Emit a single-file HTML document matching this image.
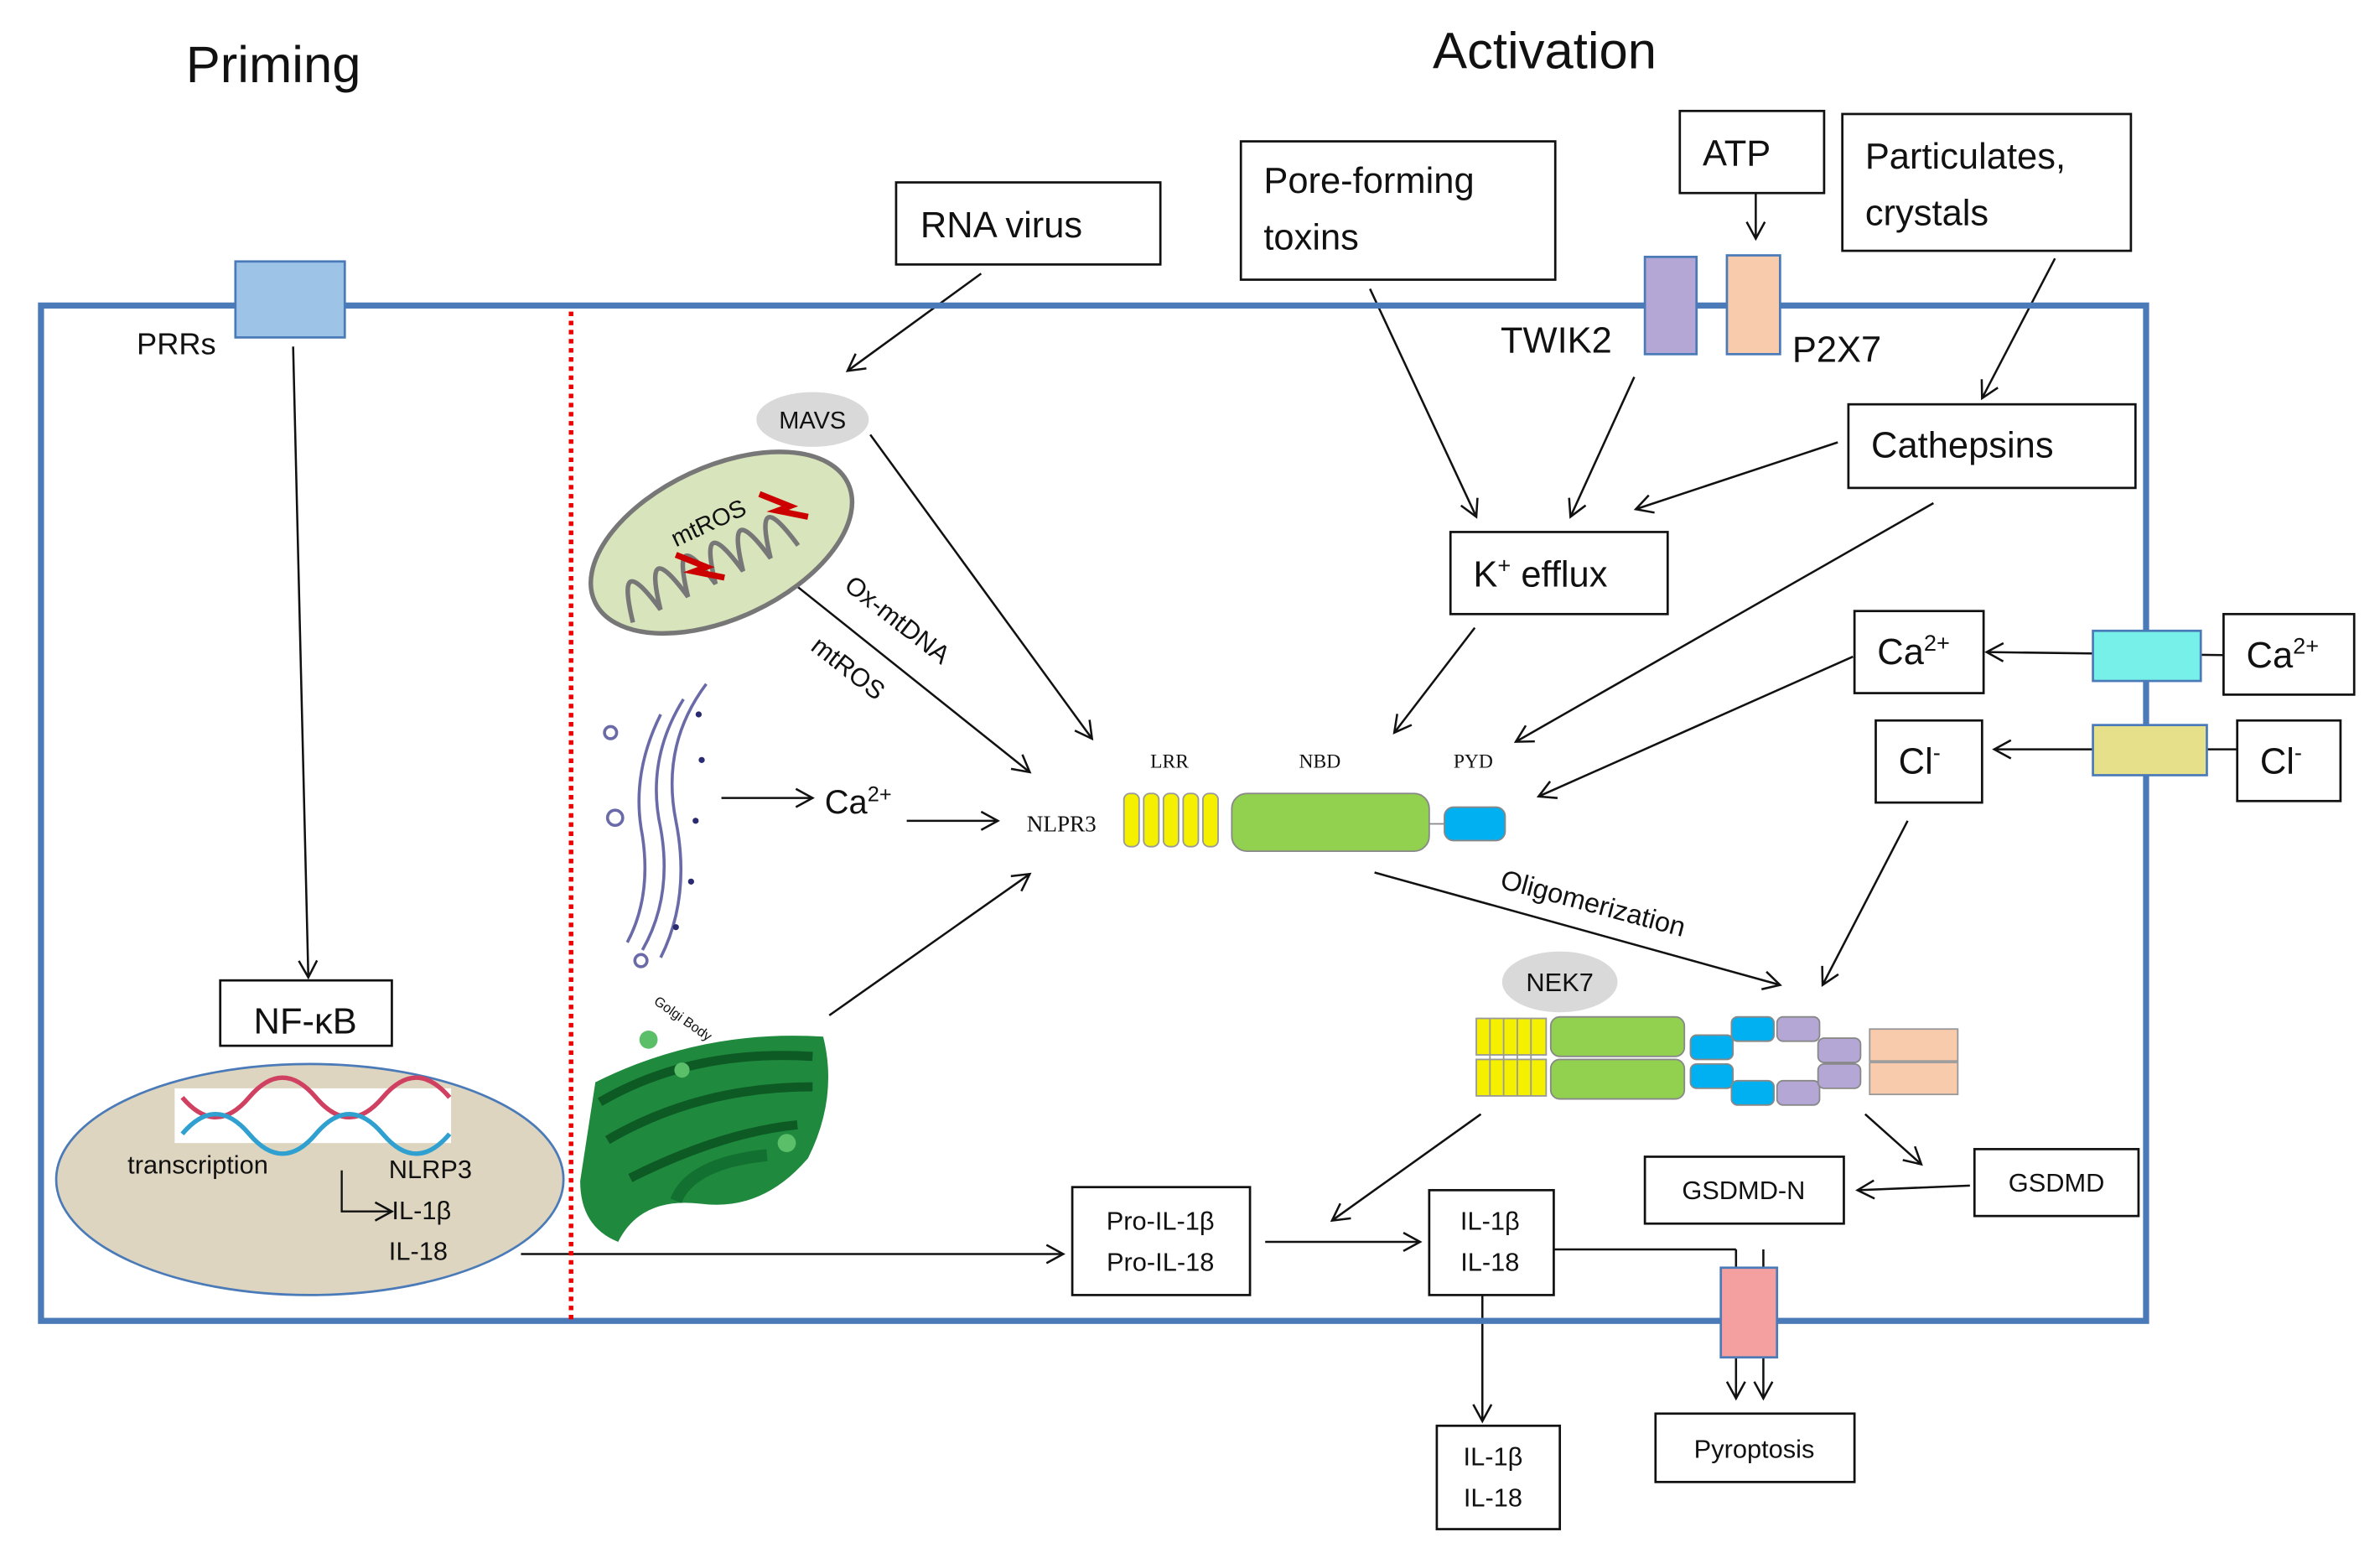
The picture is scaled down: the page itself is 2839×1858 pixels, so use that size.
<!DOCTYPE html>
<html><head><meta charset="utf-8"><style>
html,body{margin:0;padding:0;background:#fff;}
svg{display:block;}
text{font-family:"Liberation Sans","DejaVu Sans",sans-serif;fill:#111;}
.s{font-family:"Liberation Serif",serif;}
</style></head><body>
<svg width="2839" height="1858" viewBox="0 0 1567 1025" preserveAspectRatio="none" xmlns="http://www.w3.org/2000/svg">
<defs>
<marker id="a" markerWidth="14" markerHeight="14" refX="12" refY="7" orient="auto" markerUnits="userSpaceOnUse">
<path d="M1,1 L12,7 L1,13" fill="none" stroke="#111" stroke-width="1.4"/></marker>
</defs>
<g stroke="#111" stroke-width="1.4" fill="none" marker-end="url(#a)">
<line x1="193" y1="228" x2="203" y2="643"/>
<line x1="343" y1="825" x2="700" y2="825"/>
<line x1="646" y1="180" x2="558" y2="244"/>
<line x1="573" y1="286" x2="719" y2="486"/>
<line x1="515" y1="378" x2="678" y2="508"/>
<line x1="475" y1="525" x2="535" y2="525"/>
<line x1="597" y1="540" x2="657" y2="540"/>
<line x1="546" y1="668" x2="678" y2="575"/>
<line x1="902" y1="190" x2="972" y2="340"/>
<line x1="1156" y1="127" x2="1156" y2="157"/>
<line x1="1353" y1="170" x2="1305" y2="262"/>
<line x1="1210" y1="291" x2="1077" y2="335"/>
<line x1="1076" y1="248" x2="1034" y2="340"/>
<line x1="971" y1="413" x2="918" y2="482"/>
<line x1="1273" y1="331" x2="998" y2="488"/>
<line x1="1220" y1="432" x2="1013" y2="524"/>
<line x1="1464" y1="431" x2="1308" y2="429"/>
<line x1="1473" y1="493" x2="1313" y2="493"/>
<line x1="1256" y1="540" x2="1200" y2="648"/>
<line x1="905" y1="574" x2="1172" y2="648"/>
<line x1="975" y1="733" x2="877" y2="803"/>
<line x1="1228" y1="733" x2="1265" y2="766"/>
<line x1="1297" y1="780" x2="1223" y2="783"/>
<line x1="833" y1="817" x2="935" y2="817"/>
<line x1="976" y1="852" x2="976" y2="935"/>
<line x1="1143" y1="822" x2="1143" y2="920"/>
<line x1="1161" y1="822" x2="1161" y2="920"/>
</g>
<line x1="1023" y1="822" x2="1143" y2="822" stroke="#111" stroke-width="1.4"/>
<rect x="27" y="201" width="1386" height="668" fill="none" stroke="#4a7ab8" stroke-width="4"/>
<line x1="376" y1="205" x2="376" y2="869" stroke="#e00" stroke-width="3" stroke-dasharray="3,3"/>
<text x="180" y="54" font-size="34" text-anchor="middle">Priming</text>
<text x="1017" y="45" font-size="34" text-anchor="middle">Activation</text>
<rect x="155" y="172" width="72" height="50" fill="#9dc3e6" stroke="#4a7ab8" stroke-width="1.5"/>
<text x="90" y="233" font-size="20">PRRs</text>
<g fill="#fff" stroke="#111" stroke-width="1.5">
<rect x="145" y="645" width="113" height="43"/>
<rect x="590" y="120" width="174" height="54"/>
<rect x="817" y="93" width="207" height="91"/>
<rect x="1106" y="73" width="95" height="54"/>
<rect x="1213" y="75" width="190" height="90"/>
<rect x="1217" y="266" width="189" height="55"/>
<rect x="955" y="350" width="143" height="54"/>
<rect x="1221" y="402" width="85" height="54"/>
<rect x="1464" y="404" width="86" height="53"/>
<rect x="1235" y="474" width="70" height="54"/>
<rect x="1473" y="474" width="68" height="53"/>
<rect x="1083" y="761" width="131" height="44"/>
<rect x="1300" y="756" width="108" height="44"/>
<rect x="706" y="781" width="117" height="71"/>
<rect x="941" y="783" width="82" height="69"/>
<rect x="946" y="938" width="81" height="68"/>
<rect x="1090" y="930" width="131" height="45"/>
</g>
<text x="201" y="680" font-size="24" text-anchor="middle">NF-κB</text>
<text x="606" y="156" font-size="24">RNA virus</text>
<text x="832" y="127" font-size="24">Pore-forming</text>
<text x="832" y="164" font-size="24">toxins</text>
<text x="1121" y="109" font-size="24">ATP</text>
<text x="1228" y="111" font-size="24">Particulates,</text>
<text x="1228" y="148" font-size="24">crystals</text>
<text x="1232" y="301" font-size="24">Cathepsins</text>
<text x="970" y="386" font-size="24">K<tspan font-size="15" dy="-9">+</tspan><tspan dy="9"> efflux</tspan></text>
<text x="1236" y="437" font-size="24">Ca<tspan font-size="15" dy="-9">2+</tspan></text>
<text x="1479" y="439" font-size="24">Ca<tspan font-size="15" dy="-9">2+</tspan></text>
<text x="1250" y="509" font-size="24">Cl<tspan font-size="15" dy="-9">-</tspan></text>
<text x="1488" y="509" font-size="24">Cl<tspan font-size="15" dy="-9">-</tspan></text>
<text x="1148" y="789" font-size="17" text-anchor="middle">GSDMD-N</text>
<text x="1354" y="784" font-size="17" text-anchor="middle">GSDMD</text>
<text x="764" y="809" font-size="17" text-anchor="middle">Pro-IL-1β</text>
<text x="764" y="836" font-size="17" text-anchor="middle">Pro-IL-18</text>
<text x="981" y="809" font-size="17" text-anchor="middle">IL-1β</text>
<text x="981" y="836" font-size="17" text-anchor="middle">IL-18</text>
<text x="983" y="964" font-size="17" text-anchor="middle">IL-1β</text>
<text x="983" y="991" font-size="17" text-anchor="middle">IL-18</text>
<text x="1155" y="959" font-size="17" text-anchor="middle">Pyroptosis</text>
<rect x="1083" y="169" width="34" height="64" fill="#b4a7d6" stroke="#4a7ab8" stroke-width="1.5"/>
<rect x="1137" y="168" width="35" height="65" fill="#f8cbad" stroke="#4a7ab8" stroke-width="1.5"/>
<text x="988" y="232" font-size="24">TWIK2</text>
<text x="1180" y="238" font-size="24">P2X7</text>
<rect x="1378" y="415" width="71" height="33" fill="#76f0e8" stroke="#4a7ab8" stroke-width="1.5"/>
<rect x="1378" y="477" width="75" height="33" fill="#e6e08a" stroke="#4a7ab8" stroke-width="1.5"/>
<rect x="1133" y="834" width="37" height="59" fill="#f4a0a0" stroke="#4a7ab8" stroke-width="1.5"/>
<ellipse cx="204" cy="776" rx="167" ry="76" fill="#ddd5c0" stroke="#4a7ab8" stroke-width="1.5"/>
<rect x="115" y="716" width="182" height="36" fill="#fff"/>
<path d="M120,722 q22,26 44,0 t44,0 t44,0 t44,0" stroke="#d04060" stroke-width="3" fill="none"/>
<path d="M120,746 q22,-26 44,0 t44,0 t44,0 t44,0" stroke="#30a0d0" stroke-width="3" fill="none"/>
<text x="84" y="772" font-size="17">transcription</text>
<text x="256" y="775" font-size="17">NLRP3</text>
<text x="258" y="802" font-size="17">IL-1β</text>
<text x="256" y="829" font-size="17">IL-18</text>
<path d="M225,770 V797 H258" fill="none" stroke="#111" stroke-width="1.3" marker-end="url(#a)"/>
<ellipse cx="535" cy="276" rx="37" ry="18" fill="#d9d9d9"/>
<text x="535" y="282" font-size="16" text-anchor="middle">MAVS</text>
<g transform="rotate(-25 475 357)">
<ellipse cx="475" cy="357" rx="92" ry="50" fill="#d8e4bc" stroke="#777" stroke-width="3"/>
<path d="M400,380 q10,-50 20,0 q10,-50 20,0 q10,-50 20,0 q10,-50 20,0 q10,-50 20,0 q10,-50 20,0" fill="none" stroke="#777" stroke-width="3"/>
</g>
<path d="M500,325 l20,8 -8,3 20,4" stroke="#c00" stroke-width="4" fill="none"/>
<path d="M445,365 l20,8 -8,3 20,4" stroke="#c00" stroke-width="4" fill="none"/>
<text x="445" y="360" font-size="16" transform="rotate(-25 445 360)">mtROS</text>
<text x="555" y="387" font-size="17" transform="rotate(38 555 387)">Ox-mtDNA</text>
<text x="533" y="427" font-size="17" transform="rotate(38 533 427)">mtROS</text>
<g fill="none" stroke="#6a6aa8" stroke-width="2">
<path d="M465,450 q-30,40 -20,90 q10,50 -10,90"/>
<path d="M450,460 q-25,40 -15,85 q8,45 -12,80"/>
<path d="M435,470 q-20,40 -12,80 q6,40 -10,70"/>
<circle cx="402" cy="482" r="4"/><circle cx="405" cy="538" r="5"/><circle cx="422" cy="632" r="4"/>
</g>
<g fill="#2a2a70"><circle cx="460" cy="470" r="2"/><circle cx="462" cy="500" r="2"/><circle cx="458" cy="540" r="2"/><circle cx="455" cy="580" r="2"/><circle cx="445" cy="610" r="2"/></g>
<text x="543" y="535" font-size="22">Ca<tspan font-size="14" dy="-8">2+</tspan></text>
<text x="430" y="660" font-size="9" fill="#777" transform="rotate(35 430 660)">Golgi Body</text>
<g>
<path d="M392,712 q70,-35 150,-30 q10,40 -10,80 q-30,35 -70,30 q-40,-5 -55,25 q-25,-10 -25,-40 z" fill="#1f8a3e"/>
<path d="M445,790 q10,-25 60,-30" stroke="#127030" stroke-width="8" fill="none"/>
<path d="M395,725 q60,-35 140,-30" stroke="#0d5a25" stroke-width="6" fill="none"/>
<path d="M400,750 q60,-35 135,-35" stroke="#0d5a25" stroke-width="6" fill="none"/>
<path d="M415,775 q60,-30 110,-35" stroke="#0d5a25" stroke-width="6" fill="none"/>
<circle cx="427" cy="684" r="6" fill="#5bbf6a"/><circle cx="449" cy="704" r="5" fill="#5bbf6a"/><circle cx="518" cy="752" r="6" fill="#5bbf6a"/>
</g>
<text x="676" y="547" font-size="15" class="s">NLPR3</text>
<text x="770" y="505" font-size="13" class="s" text-anchor="middle">LRR</text>
<text x="869" y="505" font-size="13" class="s" text-anchor="middle">NBD</text>
<text x="970" y="505" font-size="13" class="s" text-anchor="middle">PYD</text>
<g fill="#f5f000" stroke="#999" stroke-width="1">
<rect x="740" y="522" width="10" height="35" rx="4"/><rect x="753" y="522" width="10" height="35" rx="4"/><rect x="766" y="522" width="10" height="35" rx="4"/><rect x="779" y="522" width="10" height="35" rx="4"/><rect x="792" y="522" width="10" height="35" rx="4"/>
</g>
<rect x="811" y="522" width="130" height="38" rx="10" fill="#92d050" stroke="#888"/>
<line x1="941" y1="542" x2="951" y2="542" stroke="#888"/>
<rect x="951" y="531" width="40" height="22" rx="6" fill="#00b0f0" stroke="#888"/>
<text x="987" y="584" font-size="18" transform="rotate(15 987 584)">Oligomerization</text>
<ellipse cx="1027" cy="646" rx="38" ry="20" fill="#d9d9d9"/>
<text x="1027" y="652" font-size="17" text-anchor="middle">NEK7</text>
<rect x="972" y="670" width="46" height="24" fill="#f5f000" stroke="#999"/>
<rect x="972" y="697" width="46" height="24" fill="#f5f000" stroke="#999"/>
<g stroke="#999"><line x1="981" y1="670" x2="981" y2="721"/><line x1="990" y1="670" x2="990" y2="721"/><line x1="999" y1="670" x2="999" y2="721"/><line x1="1008" y1="670" x2="1008" y2="721"/></g>
<rect x="1021" y="669" width="88" height="26" rx="6" fill="#92d050" stroke="#888"/>
<rect x="1021" y="697" width="88" height="26" rx="6" fill="#92d050" stroke="#888"/>
<g fill="#00b0f0" stroke="#888"><rect x="1113" y="681" width="28" height="16" rx="4"/><rect x="1113" y="700" width="28" height="16" rx="4"/><rect x="1140" y="669" width="28" height="16" rx="4"/><rect x="1140" y="711" width="28" height="16" rx="4"/></g>
<g fill="#b4a7d6" stroke="#888"><rect x="1170" y="669" width="28" height="16" rx="4"/><rect x="1170" y="711" width="28" height="16" rx="4"/><rect x="1197" y="683" width="28" height="16" rx="4"/><rect x="1197" y="700" width="28" height="16" rx="4"/></g>
<rect x="1231" y="677" width="58" height="21" fill="#f8cbad" stroke="#999"/>
<rect x="1231" y="699" width="58" height="21" fill="#f8cbad" stroke="#999"/>
</svg>
</body></html>
